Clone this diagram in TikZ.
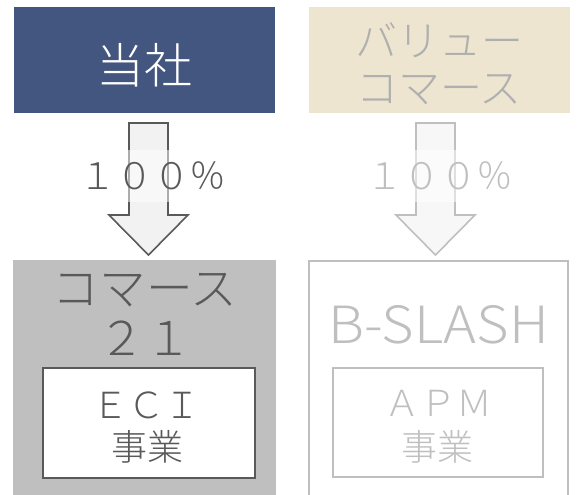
\documentclass[tikz,border=0pt]{standalone}
\usepackage{fontspec}
\setmainfont{Noto Sans CJK JP Light}
\newfontfamily\latinf{Noto Sans CJK JP Light}[FakeStretch=1.09]
\usetikzlibrary{calc}
\definecolor{navy}{RGB}{66,86,128}
\definecolor{beige}{RGB}{237,229,207}
\definecolor{dgray}{RGB}{89,89,89}
\definecolor{mgray}{RGB}{191,191,191}
\definecolor{tgray}{RGB}{175,175,175}
\definecolor{afillL}{RGB}{242,242,242}
\definecolor{afillR}{RGB}{247,247,247}
\newcommand{\dnarrow}[3]{%
  \draw[line width=1.2pt, draw=#2, fill=#3, line join=miter]
    ($(#1)+(-19.5,0)$) -- ($(#1)+(19.5,0)$) -- ($(#1)+(19.5,92)$) --
    ($(#1)+(39.5,92)$) -- ($(#1)+(0,132)$) -- ($(#1)+(-39.5,92)$) --
    ($(#1)+(-19.5,92)$) -- cycle;}
\tikzset{
  box/.style={anchor=north west, inner sep=0pt, outer sep=0pt},
  lbl/.style={inner sep=0pt, outer sep=0pt},
  pct/.style={inner sep=0pt, outer sep=0pt, fill=white, fill opacity=0.5, text opacity=1,
    minimum height=39pt, minimum width=112pt, font=\fontsize{27.5}{30}\selectfont},
}
\begin{document}
\begin{tikzpicture}[x=0.75pt,y=-0.75pt]
\useasboundingbox (0,0) rectangle (577,494);
\clip (0,0) rectangle (577,494);
% top boxes
\node[box, fill=navy, minimum width=195.75pt, minimum height=79.5pt] (tosha) at (14,7) {};
\node[lbl, text=white, font=\fontsize{36}{40}\selectfont] (toshaT) at (144.5,65) {当社};
\node[box, fill=beige, minimum width=195.75pt, minimum height=79.5pt] (value) at (309,7) {};
\node[lbl, text=tgray, font=\fontsize{31.5}{36}\selectfont] (valueA) at (439,40) {バリュー};
\node[lbl, text=tgray, font=\fontsize{31.5}{36}\selectfont] (valueB) at (439,90) {コマース};
% arrows
\coordinate (aL) at (148.5,123);
\coordinate (aR) at (435.5,123);
\dnarrow{aL}{dgray}{afillL}
\dnarrow{aR}{mgray}{afillR}
\node[pct, text=dgray] (pL) at (153,176) {１００％};
\node[pct, text=mgray] (pR) at (440,176) {１００％};
% bottom boxes
\node[box, fill=mgray, minimum width=197.25pt, minimum height=180pt] (comm) at (13,260) {};
\node[lbl, text=dgray, font=\fontsize{35}{40}\selectfont] (commA) at (145,290) {コマース};
\node[lbl, text=dgray, font=\fontsize{35}{40}\selectfont] (commB) at (145,338) {２１};
\node[box, draw=dgray, line width=1.5pt, fill=white, minimum width=159pt, minimum height=82.5pt] (eci) at (42.5,367.5) {};
\node[lbl, text=dgray, font=\fontsize{27}{30}\selectfont] (eciA) at (146,405) {ＥＣＩ};
\node[lbl, text=dgray, font=\fontsize{27}{30}\selectfont] (eciB) at (147,447) {事業};
\node[box, draw=mgray, line width=1.5pt, minimum width=194.6pt, minimum height=180pt] (bsl) at (309,261) {};
\node[lbl, text=mgray, font=\latinf\fontsize{38.5}{42}\selectfont] (bslA) at (438.5,325) {B-SLASH};
\node[box, draw=mgray, line width=1.5pt, minimum width=157.5pt, minimum height=81.75pt] (apm) at (333,368) {};
\node[lbl, text=mgray, font=\fontsize{27}{30}\selectfont] (apmA) at (438,403) {ＡＰＭ};
\node[lbl, text=mgray, font=\fontsize{27}{30}\selectfont] (apmB) at (437,447) {事業};
\end{tikzpicture}
\end{document}
